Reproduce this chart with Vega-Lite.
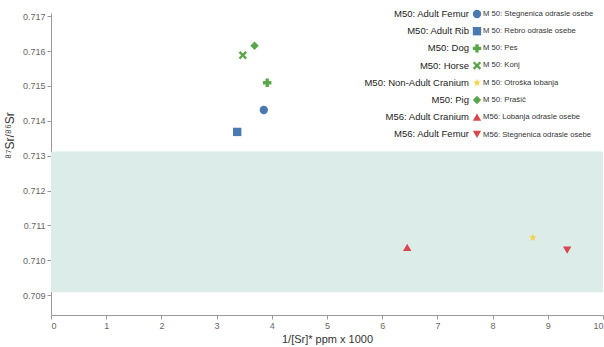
{
  "$schema": "https://vega.github.io/schema/vega-lite/v6.json",
  "width": 552,
  "height": 302,
  "autosize": {"type": "none"},
  "padding": {"left": 51, "top": 13, "right": 1, "bottom": 32},
  "background": "white",
  "config": {
    "font": "Liberation Sans",
    "view": {"stroke": null},
    "axis": {"grid": false, "domainColor": "#999", "tickColor": "#999", "labelColor": "#666", "labelFontSize": 9, "titleFontWeight": "normal", "titleColor": "#333", "titleFontSize": 11, "tickSize": 4, "labelOverlap": false, "labelPadding": 2}
  },
  "datasets": {
    "band": [{"x": 0, "x2": 10, "y": 0.70908, "y2": 0.71312}],
    "pts": [
      {"series": "M50: Adult Femur", "sl": "M 50: Stegnenica odrasle osebe", "inv": 3.855, "ratio": 0.71431},
      {"series": "M50: Adult Rib", "sl": "M 50: Rebro odrasle osebe", "inv": 3.373, "ratio": 0.71368},
      {"series": "M50: Dog", "sl": "M 50: Pes", "inv": 3.917, "ratio": 0.71509},
      {"series": "M50: Horse", "sl": "M 50: Konj", "inv": 3.475, "ratio": 0.71588},
      {"series": "M50: Non-Adult Cranium", "sl": "M 50: Otroška lobanja", "inv": 8.728, "ratio": 0.71065},
      {"series": "M50: Pig", "sl": "M 50: Prašič", "inv": 3.687, "ratio": 0.71615},
      {"series": "M56: Adult Cranium", "sl": "M56: Lobanja odrasle osebe", "inv": 6.453, "ratio": 0.71037},
      {"series": "M56: Adult Femur", "sl": "M56: Stegnenica odrasle osebe", "inv": 9.351, "ratio": 0.71029}
    ]
  },
  "layer": [
    {
      "data": {"name": "band"},
      "mark": {"type": "rect", "color": "#dcece9"},
      "encoding": {
        "x": {"field": "x", "type": "quantitative", "scale": {"domain": [0, 10], "nice": false}, "axis": {"title": "1/[Sr]* ppm x 1000", "values": [0,1,2,3,4,5,6,7,8,9,10], "format": "d", "tickCount": 20, "titlePadding": 3, "labelOverlap": false}},
        "x2": {"field": "x2"},
        "y": {"field": "y", "type": "quantitative", "scale": {"domain": [0.70843, 0.71709], "nice": false, "zero": false}, "axis": {"title": "⁸⁷Sr/⁸⁶Sr", "titleFontSize": 12, "values": [0.709,0.710,0.711,0.712,0.713,0.714,0.715,0.716,0.717], "tickCount": 20, "format": ".3f", "titleX": -35, "titleY": 122, "labelOverlap": false, "labelBound": false}},
        "y2": {"field": "y2"}
      }
    },
    {
      "data": {"name": "pts"},
      "mark": {"type": "point", "filled": true, "opacity": 1},
      "encoding": {
        "x": {"field": "inv", "type": "quantitative"},
        "y": {"field": "ratio", "type": "quantitative"},
        "color": {
          "field": "series", "type": "nominal",
          "scale": {"range": ["#4a78b0", "#4a78b0", "#5aa64a", "#5aa64a", "#f2d34a", "#5aa64a", "#d9464f", "#d9464f"]},
          "legend": {"orient": "none", "legendX": 421, "legendY": -4, "title": null, "labelAlign": "right", "labelOffset": -13, "labelFontSize": 9.5, "labelColor": "#222", "symbolSize": 70, "rowPadding": 7.2, "padding": 0}
        },
        "shape": {
          "field": "series", "type": "nominal",
          "scale": {"range": ["circle", "square", "cross", "M-1,-0.6L-0.6,-1L0,-0.4L0.6,-1L1,-0.6L0.4,0L1,0.6L0.6,1L0,0.4L-0.6,1L-1,0.6L-0.4,0Z", "M0,-1L0.235,-0.324L0.951,-0.309L0.380,0.124L0.588,0.809L0,0.4L-0.588,0.809L-0.380,0.124L-0.951,-0.309L-0.235,-0.324Z", "diamond", "triangle-up", "triangle-down"]},
          "legend": {"orient": "none", "legendX": 421, "legendY": -4, "title": null, "labelAlign": "right", "labelOffset": -13, "labelFontSize": 9.5, "labelColor": "#222", "symbolSize": 70, "rowPadding": 7.2, "padding": 0}
        },
        "size": {
          "field": "sl", "type": "nominal",
          "scale": {"type": "ordinal", "domain": ["M 50: Stegnenica odrasle osebe", "M 50: Rebro odrasle osebe", "M 50: Pes", "M 50: Konj", "M 50: Otroška lobanja", "M 50: Prašič", "M56: Lobanja odrasle osebe", "M56: Stegnenica odrasle osebe"], "range": [70,70,70,70,70,70,70,70]},
          "legend": {"orient": "none", "legendX": 421, "legendY": -4, "title": null, "labelFontSize": 7.7, "labelColor": "#333", "symbolOpacity": 0, "symbolStrokeWidth": 0, "labelOffset": 2, "rowPadding": 8.3, "padding": 0}
        }
      }
    }
  ]
}
